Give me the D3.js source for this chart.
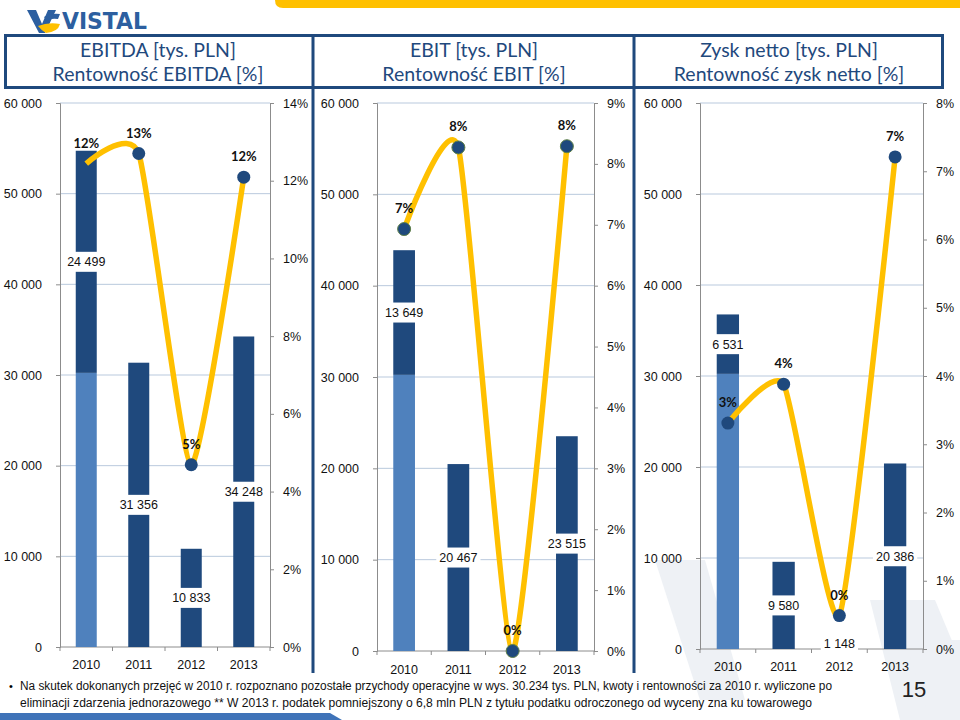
<!DOCTYPE html>
<html><head><meta charset="utf-8">
<script src="https://cdn.jsdelivr.net/npm/d3@7"></script>
<style>body{margin:0;background:#fff}</style>
</head><body><svg id="c" width="960" height="720"></svg>
<script>
// ---- data ----
const years = ["2010", "2011", "2012", "2013"];
const oneOff2010 = [30234, 0, 0, 0];
const ebitda = [24499, 31356, 10833, 34248];
const ebit = [13649, 20467, 0, 23515];
const netProfit = [6531, 9580, 1148, 20386];
const ebitdaMargin = [0.1244, 0.127, 0.0469, 0.1209];
const ebitMargin = [0.0693, 0.0827, 0.0, 0.0829];
const netMargin = [0.0331, 0.0388, 0.0049, 0.0721];
const leftTicks = [0, 10000, 20000, 30000, 40000, 50000, 60000];
const ebitdaPctTicks = [0, 0.02, 0.04, 0.06, 0.08, 0.10, 0.12, 0.14];
const ebitPctTicks = [0, 0.01, 0.02, 0.03, 0.04, 0.05, 0.06, 0.07, 0.08, 0.09];
const netPctTicks = [0, 0.01, 0.02, 0.03, 0.04, 0.05, 0.06, 0.07, 0.08];
const ebitdaTitle = ["EBITDA [tys. PLN]", "Rentowność EBITDA [%]"];
const ebitTitle = ["EBIT [tys. PLN]", "Rentowność EBIT [%]"];
const netTitle = ["Zysk netto [tys. PLN]", "Rentowność zysk netto  [%]"];
const footnote = [
  "Na skutek dokonanych przejęć w 2010 r. rozpoznano pozostałe przychody operacyjne w wys. 30.234 tys. PLN, kwoty i rentowności za 2010 r. wyliczone po",
  "eliminacji zdarzenia jednorazowego ** W 2013 r. podatek pomniejszony o 6,8 mln PLN z tytułu podatku odroczonego od wyceny zna ku towarowego"
];
const pageNumber = "15";

// ---- style ----
const NAVY = "#1F497D", LIGHT = "#4F81BD", GOLD = "#FFC000", GRID = "#B9C9DD", AXIS = "#8C8C8C";
const FONT = "Lato, 'Liberation Sans', sans-serif";
const NUMFONT = "'Liberation Sans', Arial, sans-serif";
const loc = d3.formatLocale({decimal: ",", thousands: "\u00a0", grouping: [3], currency: ["", ""]});
const fmtNum = loc.format(",d");
const fmtPct = d3.format(".0%");

const svg = d3.select("#c");

// top yellow band
svg.append("path").attr("d", "M283,0 H960 V8 H283 Q275,8 275,0 Z").attr("fill", GOLD);
// bottom blue band
svg.append("path").attr("d", "M0,713 H330 L342,720 H0 Z").attr("fill", "#3F73B8");

// faint watermark
const wm = svg.append("g").attr("fill", "#EEF1F5");
wm.append("path").attr("d", "M655,560 L705,560 L745,700 L700,700 Z");
wm.append("path").attr("d", "M870,600 L935,600 L960,660 L960,720 L900,720 Z");
wm.append("path").attr("d", "M905,640 L960,640 L960,720 L930,720 Z");

// logo
const logo = svg.append("g");
logo.append("path").attr("d", "M27,10 L36,10 L42,24 L48,10 L56,10 L45,33 L39,33 Z").attr("fill", "#2C5FA0");
logo.append("path").attr("d", "M44,17 Q50,13 60,14 L58,19 Q50,18 47,21 Z").attr("fill", "#2C5FA0");
logo.append("path").attr("d", "M38,26 Q48,22 60,24 Q58,32 46,33 Q42,31 38,26 Z").attr("fill", GOLD);
logo.append("text").attr("x", 62).attr("y", 29).attr("font-family", "'DejaVu Sans', sans-serif")
  .attr("font-weight", "bold").attr("font-size", 23).attr("fill", "#2C5FA0")
  .attr("textLength", 85).attr("lengthAdjust", "spacingAndGlyphs").text("VISTAL");

// title boxes and separators
svg.append("rect").attr("x", 5.5).attr("y", 35.5).attr("width", 937).attr("height", 52)
  .attr("fill", "none").attr("stroke", NAVY).attr("stroke-width", 3);
[313, 634].forEach(x => svg.append("line").attr("x1", x).attr("x2", x).attr("y1", 35).attr("y2", 673)
  .attr("stroke", NAVY).attr("stroke-width", 3));

const panels = [
  {title: ebitdaTitle, cx: 158, vals: ebitda, pct: ebitdaMargin, pctTicks: ebitdaPctTicks, pctMax: 0.14,
   x0: 60, x1: 270, yTop: 103, yBot: 647, yearY: 669, markers: [false, true, true, true], dotStroke: "none"},
  {title: ebitTitle, cx: 474, vals: ebit, pct: ebitMargin, pctTicks: ebitPctTicks, pctMax: 0.09,
   x0: 377, x1: 594, yTop: 103, yBot: 651, yearY: 674, markers: [true, true, true, true], dotStroke: "#5E7F48"},
  {title: netTitle, cx: 789, vals: netProfit, pct: netMargin, pctTicks: netPctTicks, pctMax: 0.08,
   x0: 700, x1: 923, yTop: 103, yBot: 649, yearY: 671, markers: [true, true, true, true], dotStroke: "none"}
];

panels.forEach(p => {
  const g = svg.append("g");
  // title
  p.title.forEach((t, i) => g.append("text").attr("x", p.cx).attr("y", 57 + i * 24)
    .attr("text-anchor", "middle").attr("font-family", FONT).attr("font-size", 19.5)
    .attr("fill", NAVY).text(t));

  const x = d3.scaleBand().domain(years).range([p.x0, p.x1]).paddingInner(0.6).paddingOuter(0.3);
  const y = d3.scaleLinear().domain([0, 60000]).range([p.yBot, p.yTop]);
  const y2 = d3.scaleLinear().domain([0, p.pctMax]).range([p.yBot, p.yTop]);

  // gridlines
  g.append("g").selectAll("line").data(leftTicks.filter(d => d > 0)).join("line")
    .attr("x1", p.x0).attr("x2", p.x1).attr("y1", d => y(d)).attr("y2", d => y(d))
    .attr("stroke", GRID).attr("stroke-width", 1);

  // axes
  const la = g.append("g").attr("transform", `translate(${p.x0},0)`)
    .call(d3.axisLeft(y).tickValues(leftTicks).tickFormat(fmtNum).tickSize(4).tickPadding(14));
  const ra = g.append("g").attr("transform", `translate(${p.x1},0)`)
    .call(d3.axisRight(y2).tickValues(p.pctTicks).tickFormat(fmtPct).tickSize(4).tickPadding(9));
  const xb = d3.scalePoint().domain(d3.range(5)).range([p.x0, p.x1]);
  const ba = g.append("g").attr("transform", `translate(0,${p.yBot})`);
  ba.append("line").attr("x1", p.x0).attr("x2", p.x1).attr("stroke", AXIS);
  ba.selectAll("line.t").data(d3.range(5)).join("line").attr("class", "t")
    .attr("x1", d => xb(d)).attr("x2", d => xb(d)).attr("y1", 0).attr("y2", 4).attr("stroke", AXIS);
  g.selectAll("text.yr").data(years).join("text").attr("class", "yr")
    .attr("x", d => x(d) + x.bandwidth() / 2).attr("y", p.yearY).attr("text-anchor", "middle")
    .attr("font-family", NUMFONT).attr("font-size", 12.5).attr("fill", "#111").text(d => d);
  [la, ra].forEach(a => {
    a.select(".domain").attr("stroke", AXIS);
    a.selectAll(".tick line").attr("stroke", AXIS);
    a.selectAll("text").attr("font-family", NUMFONT).attr("font-size", 12.5).attr("fill", "#111");
  });

  // bars
  g.append("g").selectAll("rect").data(years).join("rect")
    .attr("x", d => x(d)).attr("width", x.bandwidth())
    .attr("y", (d, i) => y(oneOff2010[i])).attr("height", (d, i) => y(0) - y(oneOff2010[i]))
    .attr("fill", LIGHT);
  g.append("g").selectAll("rect").data(years).join("rect")
    .attr("x", d => x(d)).attr("width", x.bandwidth())
    .attr("y", (d, i) => y(oneOff2010[i] + p.vals[i]))
    .attr("height", (d, i) => y(oneOff2010[i]) - y(oneOff2010[i] + p.vals[i]))
    .attr("fill", NAVY);

  // value labels
  years.forEach((d, i) => {
    if (!p.vals[i]) return;
    const cy = y(oneOff2010[i] + p.vals[i] / 2);
    const cx = x(d) + x.bandwidth() / 2;
    const t = g.append("text").attr("x", cx).attr("y", cy + 4.5).attr("text-anchor", "middle")
      .attr("font-family", NUMFONT).attr("font-size", 12.5).attr("fill", "#111").text(fmtNum(p.vals[i]));
    const w = t.node().getComputedTextLength();
    g.insert("rect", () => t.node()).attr("x", cx - w / 2 - 3).attr("y", cy - 10)
      .attr("width", w + 6).attr("height", 20).attr("fill", "#fff");
  });

  // margin line
  const pts = years.map((d, i) => [x(d) + x.bandwidth() / 2, y2(p.pct[i])]);
  g.append("path").attr("d", d3.line().curve(d3.curveCardinal.tension(0.45))(pts))
    .attr("fill", "none").attr("stroke", GOLD).attr("stroke-width", 5.5);
  g.selectAll("circle").data(pts.filter((q, i) => p.markers[i])).join("circle")
    .attr("cx", q => q[0]).attr("cy", q => q[1]).attr("r", 6.5)
    .attr("fill", NAVY).attr("stroke", p.dotStroke).attr("stroke-width", 1);
  g.selectAll("text.pl").data(pts).join("text").attr("class", "pl")
    .attr("x", q => q[0]).attr("y", q => q[1] - 16).attr("text-anchor", "middle")
    .attr("font-family", FONT).attr("font-weight", "bold").attr("font-size", 13).attr("fill", "#111")
    .text((q, i) => fmtPct(p.pct[i]));
});

// footnote
svg.append("text").attr("x", 9).attr("y", 690).attr("font-family", NUMFONT).attr("font-size", 11).text("•");
footnote.forEach((t, i) => svg.append("text").attr("x", 20).attr("y", 690 + i * 17)
  .attr("font-family", "'Liberation Sans Narrow', 'Liberation Sans', sans-serif").attr("font-size", 12)
  .attr("fill", "#111").attr("textLength", i === 0 ? 812 : 792).attr("lengthAdjust", "spacingAndGlyphs").text(t));
svg.append("text").attr("x", 914).attr("y", 697).attr("text-anchor", "middle")
  .attr("font-family", "'Liberation Sans Narrow', 'Liberation Sans', sans-serif").attr("font-size", 22)
  .attr("fill", "#222").text(pageNumber);
</script></body></html>
